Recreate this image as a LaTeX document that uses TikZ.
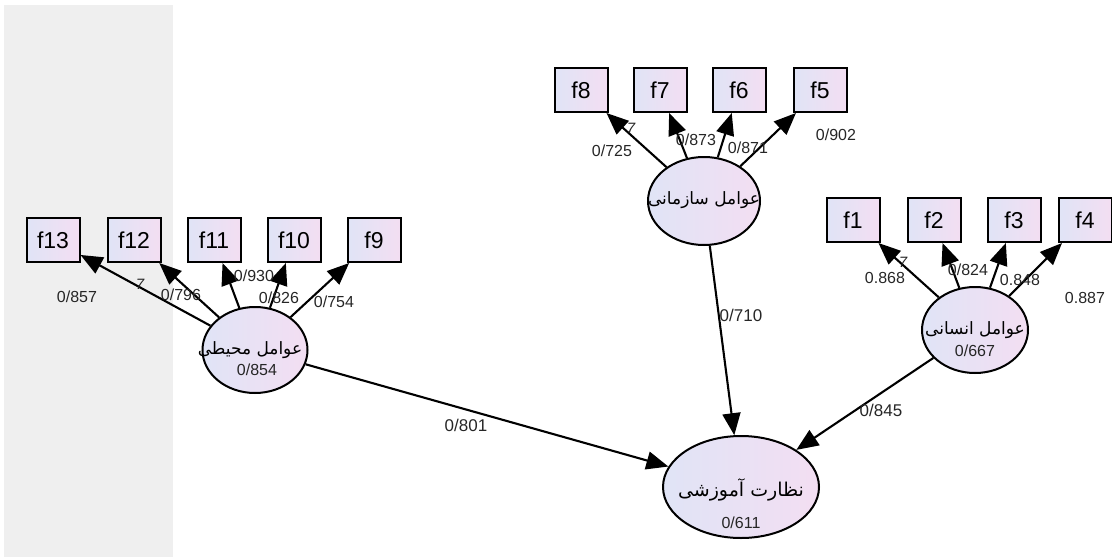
\documentclass[tikz,border=0pt]{standalone}
\usepackage{fontspec}
\setmainfont{Liberation Sans}
\newfontfamily\farsi[Script=Arabic]{DejaVu Sans}
\TeXXeTstate=1
\usetikzlibrary{shapes.geometric,arrows.meta}
\definecolor{panelgray}{RGB}{239,239,239}
\definecolor{lavleft}{RGB}{224,228,246}
\definecolor{lavright}{RGB}{243,222,242}
\tikzset{
  item/.style={draw=black, line width=2pt, left color=lavleft, right color=lavright,
    minimum width=53pt, minimum height=44pt, inner sep=0pt, font=\fontsize{23}{26}\selectfont},
  factor/.style={ellipse, draw=black, line width=2pt, left color=lavleft, right color=lavright, inner sep=0pt},
  load/.style={-{Triangle[length=22pt,width=18pt]}, line width=2.1pt},
  coef/.style={font=\fontsize{16}{18}\selectfont, text=black!85, inner sep=0pt},
  tick/.style={font=\itshape\fontsize{15}{17}\selectfont, text=black!85, inner sep=0pt},
  fname/.style={font=\farsi\fontsize{17}{20}\selectfont, inner sep=0pt}
}
\begin{document}
\begin{tikzpicture}[x=1pt,y=-1pt]
\useasboundingbox (0,0) rectangle (1112,557);
%% grey strip on the left side
\fill[panelgray] (4,5) rectangle (173,557);

%% the four latent factors
\node[factor, minimum width=105pt, minimum height=86pt] (env) at (255,350) {};
\node[factor, minimum width=112pt, minimum height=88pt] (org) at (704,201) {};
\node[factor, minimum width=106pt, minimum height=86pt] (hum) at (975,330) {};
\node[factor, minimum width=156pt, minimum height=102pt] (sup) at (741,487) {};

%% items of the environmental factor
\node[item] (f13) at (53,240) {f13};
\node[item] (f12) at (134,240) {f12};
\node[item] (f11) at (214,240) {f11};
\node[item] (f10) at (294,240) {f10};
\node[item] (f9) at (374,240) {f9};
%% items of the organisational factor
\node[item] (f8) at (581,90) {f8};
\node[item] (f7) at (660,90) {f7};
\node[item] (f6) at (739,90) {f6};
\node[item] (f5) at (820,90) {f5};
%% items of the human factor
\node[item] (f1) at (853,220) {f1};
\node[item] (f2) at (934,220) {f2};
\node[item] (f3) at (1014,220) {f3};
\node[item] (f4) at (1085,220) {f4};

%% loadings
\draw[load] (env) -- (f13);
\draw[load] (env) -- (f12);
\draw[load] (env) -- (f11);
\draw[load] (env) -- (f10);
\draw[load] (env) -- (f9);
\draw[load] (org) -- (f8);
\draw[load] (org) -- (f7);
\draw[load] (org) -- (f6);
\draw[load] (org) -- (f5);
\draw[load] (hum) -- (f1);
\draw[load] (hum) -- (f2);
\draw[load] (hum) -- (f3);
\draw[load] (hum) -- (f4);
%% paths to the outcome
\draw[load] (env) -- (sup);
\draw[load] (org) -- (sup);
\draw[load] (hum) -- (sup);

%% factor names and values
\node[fname] (envname) at (250,350) {\beginR عوامل محیطی\endR};
\node[coef] (envval) at (257,370) {0/854};
\node[fname] (orgname) at (704,200) {\beginR عوامل سازمانی\endR};
\node[fname] (humname) at (975,330) {\beginR عوامل انسانی\endR};
\node[coef] (humval) at (975,351) {0/667};
\node[fname, font=\farsi\fontsize{19}{22}\selectfont] (supname) at (741,490) {\beginR نظارت آموزشی\endR};
\node[coef] (supval) at (741,523) {0/611};

%% loading values
\node[coef] (c13) at (77,297) {0/857};
\node[tick] (t12) at (140,284) {7};
\node[coef] (c12) at (181,295) {0/796};
\node[coef] (c11) at (254,276) {0/930};
\node[coef] (c10) at (279,298) {0/826};
\node[coef] (c9) at (334,302) {0/754};
\node[tick] (t8) at (631,128) {7};
\node[coef] (c8) at (612,151) {0/725};
\node[coef] (c7) at (696,140) {0/873};
\node[coef] (c6) at (748,148) {0/871};
\node[coef] (c5) at (836,135) {0/902};
\node[tick] (t1) at (903,262) {7};
\node[coef] (c1) at (885,278) {0.868};
\node[coef] (c2) at (968,270) {0/824};
\node[coef] (c3) at (1020,280) {0.848};
\node[coef] (c4) at (1085,298) {0.887};
%% path values
\node[coef, font=\fontsize{17}{19}\selectfont] (penv) at (466,425) {0/801};
\node[coef, font=\fontsize{17}{19}\selectfont] (porg) at (741,315) {0/710};
\node[coef, font=\fontsize{17}{19}\selectfont] (phum) at (881,410) {0/845};
\end{tikzpicture}
\end{document}
